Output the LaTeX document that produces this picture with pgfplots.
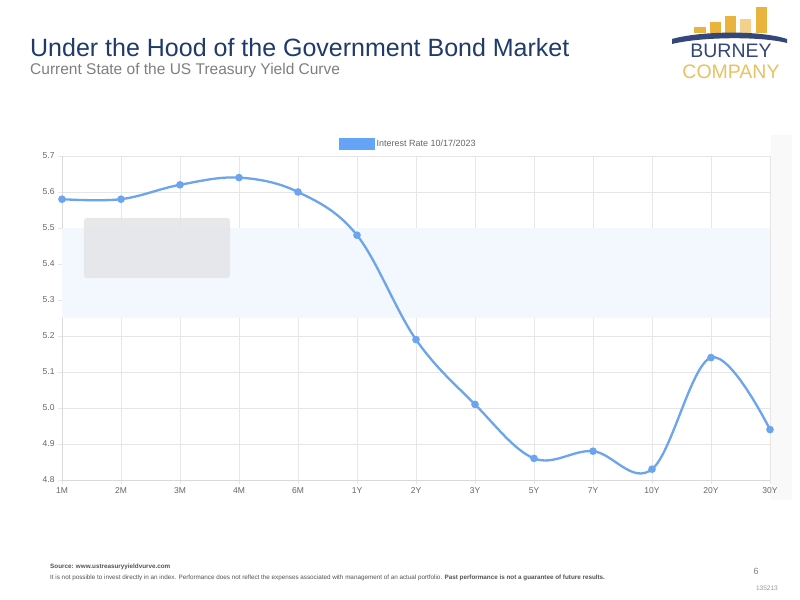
\documentclass[border=0pt]{standalone}
\usepackage{pgfplots}
\pgfplotsset{compat=1.18}
\usepackage{fontspec}
\setmainfont{Liberation Sans}
\definecolor{titleblue}{HTML}{1F3B6B}
\definecolor{subgray}{HTML}{7F7F7F}
\definecolor{tickgray}{HTML}{666666}
\definecolor{gridgray}{HTML}{E6E6E6}
\definecolor{linecol}{HTML}{6CA4EE}
\definecolor{legcol}{HTML}{65A3F7}
\definecolor{bandcol}{HTML}{F3F8FE}
\definecolor{tipgray}{HTML}{E4E5E8}
\definecolor{logonavy}{HTML}{34467A}
\definecolor{logogold}{HTML}{E9B43E}
\definecolor{logolight}{HTML}{F3D08C}
\definecolor{companygold}{HTML}{E8C262}
\begin{document}
\begin{tikzpicture}
\begin{scope}[x=1bp,y=1bp]
\fill[white] (0,0) rectangle (800,600);
\useasboundingbox (0,0) rectangle (800,600);
% header
\node[anchor=base west, inner sep=0, text=titleblue, font=\fontsize{25bp}{28bp}\selectfont] at (30,543) {Under the Hood of the Government Bond Market};
\node[anchor=base west, inner sep=0, text=subgray, font=\fontsize{15.5bp}{18bp}\selectfont] at (30,525) {Current State of the US Treasury Yield Curve};
% logo
\fill[logogold] (694,567) rectangle (706,573);
\fill[logogold] (710,567) rectangle (721,578);
\fill[logogold] (725,567) rectangle (736,584);
\fill[logolight] (740,567) rectangle (751,581);
\fill[logogold] (756,567) rectangle (767,593);
\fill[logonavy] (672,561) .. controls (700,569) and (760,570) .. (787,561) -- (787,557)
  .. controls (760,564) and (700,563) .. (672,556) -- cycle;
\node[anchor=base, inner sep=0, text=logonavy, font=\fontsize{19.5bp}{21bp}\selectfont] at (731,542) {BURNEY};
\node[anchor=base, inner sep=0, text=companygold, font=\fontsize{19.5bp}{21bp}\selectfont] at (731,521) {COMPANY};
% scrollbar strip
\fill[black!2.5] (771,100) rectangle (792,465);
\end{scope}
\begin{axis}[
  at={(62bp,120bp)}, anchor=south west,
  scale only axis, width=708bp, height=324bp,
  xmin=0, xmax=12, ymin=4.8, ymax=5.7,
  xtick={0,...,12},
  xticklabels={1M,2M,3M,4M,6M,1Y,2Y,3Y,5Y,7Y,10Y,20Y,30Y},
  ytick={4.8,4.9,...,5.71},
  /pgf/number format/assume math mode=true,
  yticklabel style={/pgf/number format/fixed, /pgf/number format/fixed zerofill, /pgf/number format/precision=1},
  ticklabel style={font=\fontsize{8.5bp}{10bp}\selectfont, text=tickgray},
  grid=major, major grid style={gridgray, line width=0.8bp},
  tick style={gridgray, line width=0.8bp},
  tick align=outside, major tick length=4bp,
  axis x line*=bottom, axis y line*=left,
  axis line style={black!15, line width=0.8bp},
  x axis line style={-}, y axis line style={-},
  legend style={at={(0.5,1)}, anchor=center, xshift=-7.5bp, yshift=12bp,
    draw=none, fill=none, font=\fontsize{9bp}{10bp}\selectfont, text=tickgray},
  legend image code/.code={\fill[legcol] (0bp,-5bp) rectangle (33bp,5bp);},
]
\fill[bandcol] (axis cs:0,5.25) rectangle (axis cs:12,5.5);
\fill[tipgray, rounded corners=3bp, opacity=0.85] (axis cs:0.37,5.361) rectangle (axis cs:2.85,5.528);
\addplot[linecol, line width=2.3bp, smooth, tension=0.6, mark=*, mark size=2.6bp, mark options={fill=linecol, draw=linecol}]
coordinates {
(0,5.58) (1,5.58) (2,5.62) (3,5.64) (4,5.60) (5,5.48) (6,5.19)
(7,5.01) (8,4.86) (9,4.88) (10,4.83) (11,5.14) (12,4.94)
};
\addlegendentry{Interest Rate 10/17/2023}
\end{axis}
% footer
\begin{scope}[x=1bp,y=1bp]
\node[anchor=base west, inner sep=0, text=tickgray!80!black, font=\bfseries\fontsize{6.3bp}{7bp}\selectfont] at (50,31) {Source: www.ustreasuryyieldvurve.com};
\node[anchor=base west, inner sep=0, text=tickgray!80!black, font=\fontsize{6.3bp}{7bp}\selectfont] at (50,20.5) {It is not possible to invest directly in an index. Performance does not reflect the expenses associated with management of an actual portfolio. \textbf{Past performance is not a guarantee of future results.}};
\node[anchor=base, inner sep=0, text=subgray, font=\fontsize{9bp}{10bp}\selectfont] at (756,25) {6};
\node[anchor=base east, inner sep=0, text=subgray!80, font=\fontsize{6.5bp}{7bp}\selectfont] at (778,9.5) {135213};
\end{scope}
\end{tikzpicture}
\end{document}
